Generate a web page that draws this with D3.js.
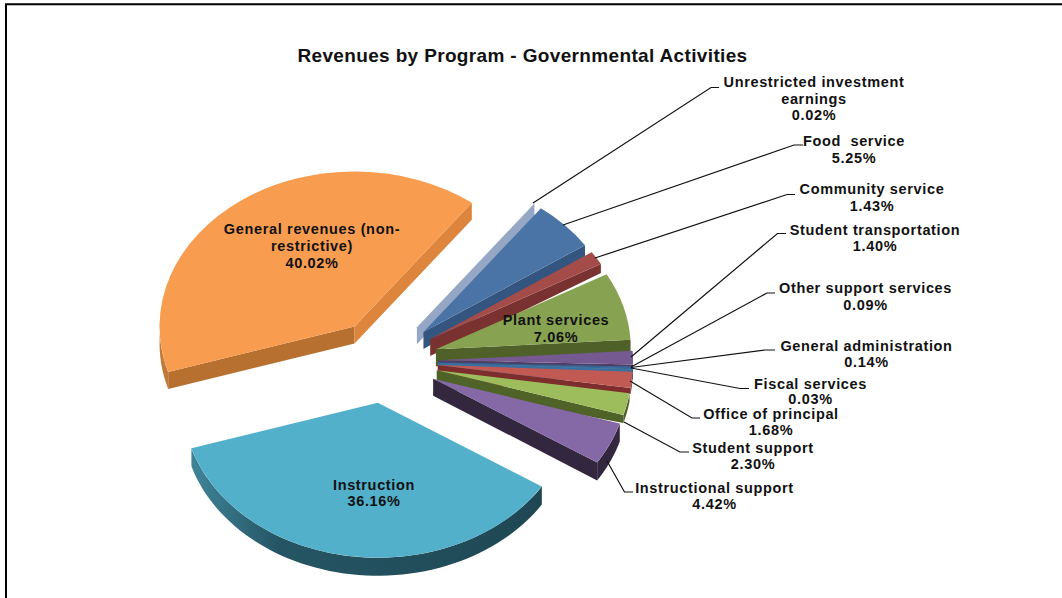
<!DOCTYPE html>
<html><head><meta charset="utf-8">
<script src="https://cdn.jsdelivr.net/npm/d3@7"></script>
<style>html,body{margin:0;padding:0;background:#fff}svg{display:block}text{font-family:"Liberation Sans",Arial,sans-serif;font-weight:bold;fill:#111}</style>
</head><body><div id="c"></div>
<script>
const categories=["General revenues (non-restrictive)","Unrestricted investment earnings","Food service","Community service","Plant services","Student transportation","Other support services","General administration","Fiscal services","Office of principal","Student support","Instructional support","Instruction"];
const shares=[40.02,0.02,5.25,1.43,7.06,1.40,0.09,0.14,0.03,1.68,2.30,4.42,36.16];
const tickLabels=["40.02%","0.02%","5.25%","1.43%","7.06%","1.40%","0.09%","0.14%","0.03%","1.68%","2.30%","4.42%","36.16%"];
const labelLines=[["General revenues (non-","restrictive)","40.02%"],["Unrestricted investment","earnings","0.02%"],["Food  service","5.25%"],["Community service","1.43%"],["Plant services","7.06%"],["Student transportation","1.40%"],["Other support services","0.09%"],["General administration","0.14%"],["Fiscal services","0.03%"],["Office of principal","1.68%"],["Student support","2.30%"],["Instructional support","4.42%"],["Instruction","36.16%"]];
const faceColors=["#f89c50","#95a7c4","#4a74a6","#a34c4a","#87a251","#745a90","#3c6fa0","#3a70a2","#6f9ea0","#c25a54","#9dbd5d","#8568a6","#52b0ca"];
const wallColors=["#b7702f","#95a7c4","#34557f","#7a3231","#506029","#4e3d64","#2c5680","#2f6494","#3a6f9f","#7d2e2c","#4f6228","#33263f","#1f4753"];
const rimDepth=[17,14,11,9,12,12,10,10,10,6,8,18,18];
const labelPos=[[312,234,17],[814,87,16.5],[854,146,16.5],[872,193.5,17],[556,325,16.5],[875,234.5,16],[865.5,292.5,17],[866.5,350.5,16],[810.5,388.5,15.5],[771,419,16],[753,452.5,16.5],[714.5,492.5,16.5],[374,490,16]];
const leaders=[null,[[533,203],[711,87.5],[719,87.5]],[[563,225],[794,145],[803,145]],[[595,258],[787,194.5],[795,194.5]],null,[[631,357],[777.5,233.5],[786,233.5]],[[631,367],[767,293],[775,293]],[[631,367.5],[765,350],[775,350]],[[631,368],[740,388.5],[749,388.5]],[[630,381],[692,418],[700,418]],[[624,422],[680,452],[689,452]],[[607,461],[624.5,492],[633,492]],null];

const W=1062,H=598,cx=385,cy=361,rx=195,ry=155,explode=53,apexDepth=17;
const deg=Math.PI/180;
const svg=d3.select("#c").append("svg").attr("width",W).attr("height",H);
const defs=svg.append("defs");
const g0=defs.append("linearGradient").attr("id","instrWall");
g0.append("stop").attr("offset",0).attr("stop-color","#3f8499");
g0.append("stop").attr("offset",.25).attr("stop-color","#255564");
g0.append("stop").attr("offset",1).attr("stop-color","#1f4753");
svg.append("path").attr("d",d3.line()([[6,H],[6,4.2],[W,4.2]])).attr("fill","none").attr("stroke","#000").attr("stroke-width",2);

const pie=d3.pie().sort(null).startAngle(252.9*deg).endAngle((252.9+360)*deg);
const arcs=pie(shares);
const yScale=ry/rx;
const face=d3.arc().innerRadius(0).outerRadius(rx);
const line=d3.line();
const unit=a=>[Math.sin(a),-Math.cos(a)*yScale];
arcs.forEach((a,i)=>{
  const mid=(a.startAngle+a.endAngle)/2,u=unit(mid);
  const ax=cx+explode*u[0],ay=cy+explode*u[1];
  const g=svg.append("g").attr("transform",`translate(${ax},${ay})`);
  const rim=t=>{const v=unit(t);return [rx*v[0],rx*v[1]];};
  const wall=t=>{
    const p=rim(t),d=rimDepth[i];
    return line([[0,0],p,[p[0],p[1]+d],[0,apexDepth]])+"Z";
  };
  const sa=((a.startAngle%(2*Math.PI))+2*Math.PI)%(2*Math.PI);
  const ea=((a.endAngle%(2*Math.PI))+2*Math.PI)%(2*Math.PI);
  if(sa>Math.PI) g.append("path").attr("d",wall(a.startAngle)).attr("fill",wallColors[i]);
  if(ea<Math.PI) g.append("path").attr("d",wall(a.endAngle)).attr("fill",i==0?"#dd853c":wallColors[i]);
  const steps=d3.range(0,61).map(k=>a.startAngle+(a.endAngle-a.startAngle)*k/60)
    .filter(t=>Math.cos(t)<0.06);
  if(steps.length>1){
    const top=steps.map(rim),bot=steps.map(t=>{const p=rim(t);return [p[0],p[1]+rimDepth[i]];}).reverse();
    g.append("path").attr("d",line(top.concat(bot))+"Z")
     .attr("fill",i==12?"url(#instrWall)":i==0?"#c27a38":wallColors[i]);
  }
  g.append("path").attr("transform",`scale(1,${yScale})`).attr("d",face({startAngle:a.startAngle,endAngle:a.endAngle}))
   .attr("fill",faceColors[i]);
});

categories.forEach((c,i)=>{
  if(leaders[i]) svg.append("path").attr("d",line(leaders[i])).attr("fill","none").attr("stroke","#111").attr("stroke-width",1.2);
});
categories.forEach((c,i)=>{
  const [x,y,dy]=labelPos[i];
  const t=svg.append("text").attr("text-anchor","middle").attr("font-size",14.5).attr("letter-spacing",.65).style("white-space","pre");
  labelLines[i].forEach((l,k)=>t.append("tspan").attr("x",x).attr("y",y+k*dy).text(l));
});
svg.append("text").attr("x",522.5).attr("y",62).attr("text-anchor","middle").attr("font-size",19).attr("letter-spacing",.35).text("Revenues by Program - Governmental Activities");
</script></body></html>
